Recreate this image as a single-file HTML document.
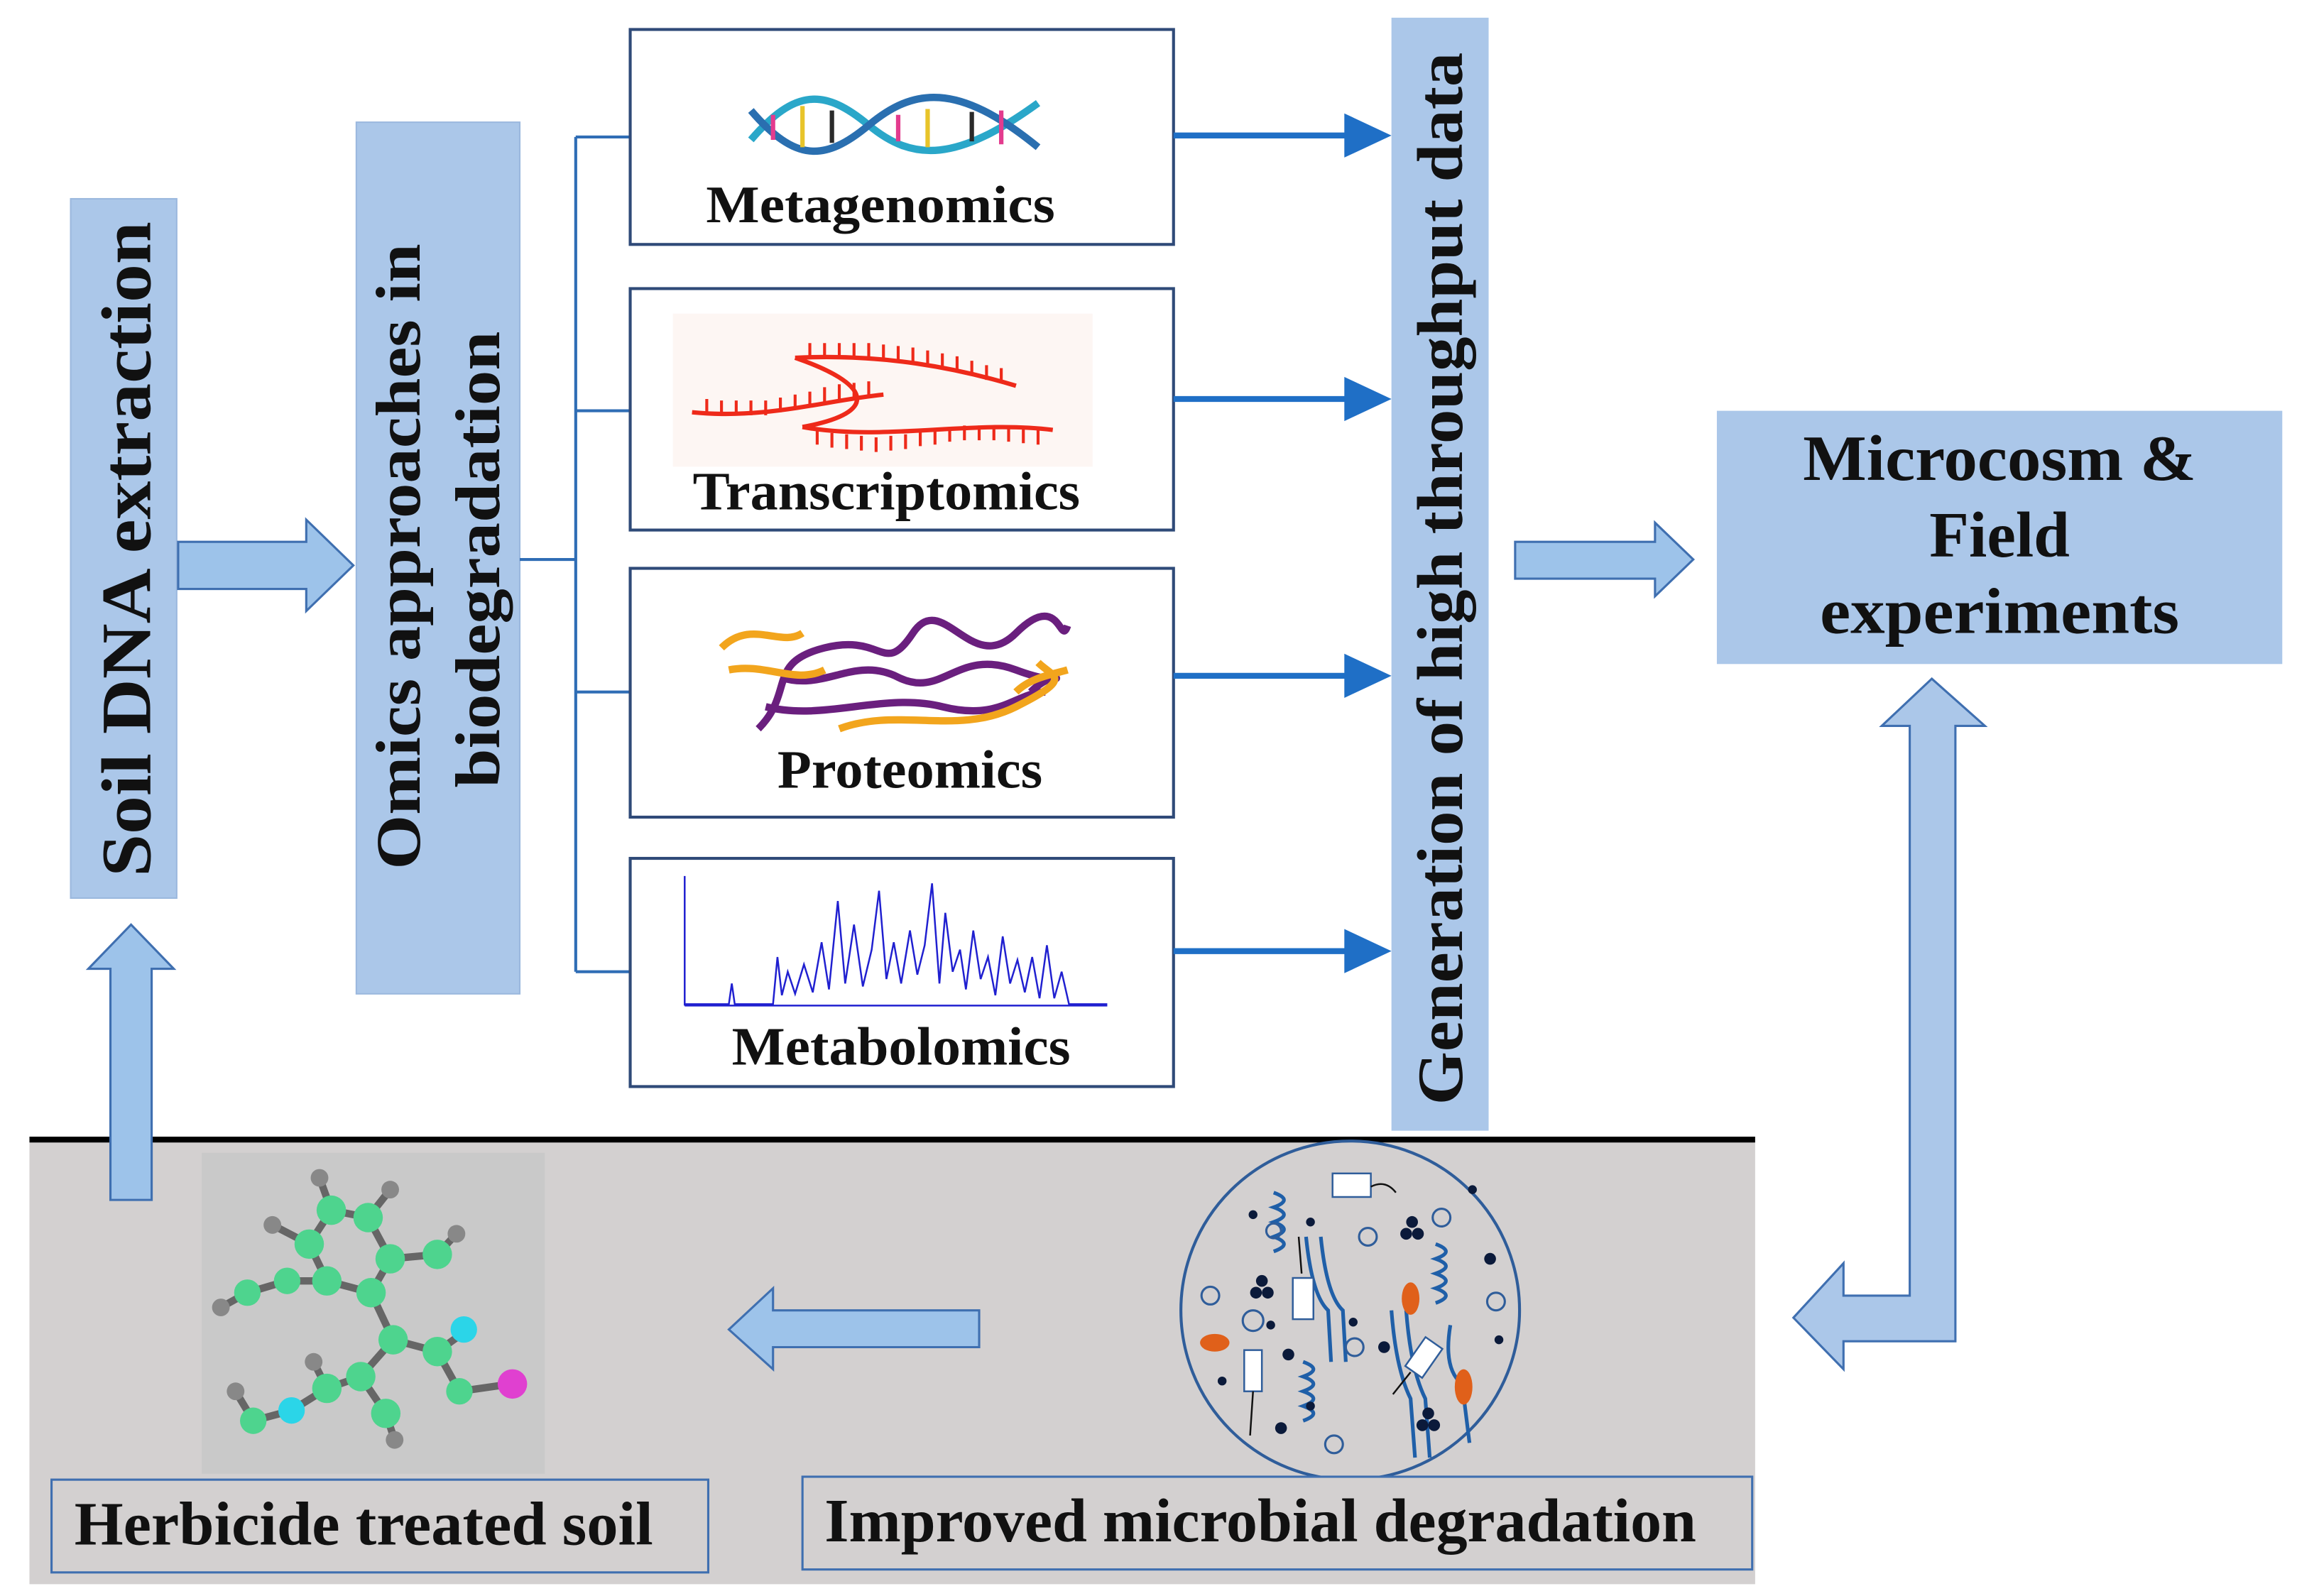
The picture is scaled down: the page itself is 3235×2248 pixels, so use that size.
<!DOCTYPE html>
<html><head><meta charset="utf-8"><style>
html,body{margin:0;padding:0;background:#fff;}
svg{display:block;}
text{font-family:"Liberation Serif",serif;font-weight:bold;fill:#111;}
</style></head><body>
<svg width="3235" height="2248" viewBox="0 0 1560 1084" xmlns="http://www.w3.org/2000/svg">
<!-- gray bottom area -->
<rect x="20" y="774" width="1172" height="302" fill="#d3d0d0"/>
<line x1="20" y1="774" x2="1192" y2="774" stroke="#000" stroke-width="4"/>

<!-- Soil DNA box -->
<rect x="48" y="135" width="72" height="475" fill="#abc7e9" stroke="#9bb8de" stroke-width="1"/>
<text transform="translate(102,373) rotate(-90)" text-anchor="middle" font-size="48" textLength="445" lengthAdjust="spacingAndGlyphs">Soil DNA extraction</text>
<!-- up arrow -->
<polygon points="75,815 103,815 103,658 118,658 89,628 60,658 75,658" fill="#9dc3ea" stroke="#3f6fb0" stroke-width="1.5"/>
<!-- right arrow -->
<polygon points="121,368 208,368 208,353 240,384 208,415 208,400 121,400" fill="#9dc3ea" stroke="#3f6fb0" stroke-width="1.5"/>

<!-- Omics box -->
<rect x="242" y="83" width="111" height="592" fill="#abc7e9" stroke="#9bb8de" stroke-width="1"/>
<text transform="translate(285,378) rotate(-90)" text-anchor="middle" font-size="43" textLength="425" lengthAdjust="spacingAndGlyphs">Omics approaches in</text>
<text transform="translate(339,380) rotate(-90)" text-anchor="middle" font-size="43" textLength="310" lengthAdjust="spacingAndGlyphs">biodegradation</text>

<!-- bracket -->
<g stroke="#2f6db5" stroke-width="2" fill="none">
<line x1="353" y1="380" x2="391" y2="380"/>
<line x1="391" y1="93" x2="391" y2="660"/>
<line x1="391" y1="93" x2="428" y2="93"/>
<line x1="391" y1="279" x2="428" y2="279"/>
<line x1="391" y1="470" x2="428" y2="470"/>
<line x1="391" y1="660" x2="428" y2="660"/>
</g>

<!-- omics boxes -->
<g fill="#fff" stroke="#2f4a78" stroke-width="2">
<rect x="428" y="20" width="369" height="146"/>
<rect x="428" y="196" width="369" height="164"/>
<rect x="428" y="386" width="369" height="169"/>
<rect x="428" y="583" width="369" height="155"/>
</g>
<!-- DNA helix -->
<g fill="none" stroke-width="5">
<path d="M510,95 C540,60 560,60 590,85 S650,110 705,70" stroke="#2aa7c9"/>
<path d="M510,75 C540,110 560,110 590,85 S650,55 705,100" stroke="#2a6fb0"/>
</g>
<g stroke-width="3">
<line x1="525" y1="78" x2="525" y2="95" stroke="#e33b8e"/><line x1="545" y1="72" x2="545" y2="100" stroke="#e8c42a"/>
<line x1="565" y1="75" x2="565" y2="97" stroke="#2a2a2a"/><line x1="610" y1="78" x2="610" y2="96" stroke="#e33b8e"/>
<line x1="630" y1="74" x2="630" y2="100" stroke="#e8c42a"/><line x1="660" y1="76" x2="660" y2="96" stroke="#2a2a2a"/>
<line x1="680" y1="75" x2="680" y2="98" stroke="#e33b8e"/>
</g>
<text x="598" y="151" text-anchor="middle" font-size="36" textLength="237" lengthAdjust="spacingAndGlyphs">Metagenomics</text>
<!-- RNA -->
<rect x="457" y="213" width="285" height="104" fill="#fdf6f3"/>
<g fill="none" stroke="#ee2a1a" stroke-width="3">
<path d="M540,243 C600,240 650,250 690,262"/>
<path d="M470,280 C520,285 560,272 600,268"/>
<path d="M545,290 C600,300 660,285 715,292"/>
<path d="M540,243 C590,260 600,280 545,290"/>
</g>
<g stroke="#ee2a1a" stroke-width="2">
<path d="M550,243v-10M560,243v-10M570,243v-10M580,243v-10M590,243v-10M600,244v-10M610,245v-10M620,246v-10M630,248v-10M640,250v-10M650,252v-10M660,255v-10M670,258v-10M680,260v-10"/>
<path d="M480,281v-10M490,282v-10M500,282v-10M510,282v-10M520,282v-10M530,280v-10M540,278v-10M550,276v-10M560,273v-10M570,271v-10M580,270v-10M590,269v-10"/>
<path d="M555,292v10M565,294v10M575,295v10M585,296v10M595,297v10M605,296v10M615,295v10M625,293v10M635,292v10M645,290v10M655,289v10M665,289v10M675,289v10M685,290v10M695,291v10M705,292v10"/>
</g>
<text x="602" y="346" text-anchor="middle" font-size="37" textLength="263" lengthAdjust="spacingAndGlyphs">Transcriptomics</text>
<!-- protein -->
<g fill="none" stroke-width="5">
<path d="M515,495 C540,470 520,450 560,440 S600,460 620,430 S660,460 690,430 S720,440 725,425" stroke="#6a1f7e"/>
<path d="M530,460 C560,470 580,445 610,460 S650,440 690,455 S720,450 700,470" stroke="#6a1f7e"/>
<path d="M520,480 C560,490 600,470 640,480 S690,470 710,470" stroke="#6a1f7e"/>
<path d="M490,440 C510,420 530,440 545,430 M495,455 C520,450 540,465 560,455" stroke="#f2a51d"/>
<path d="M570,495 C610,480 650,500 690,480 S715,460 705,450" stroke="#f2a51d"/>
<path d="M690,470 C700,460 715,458 725,455" stroke="#f2a51d"/>
</g>
<text x="618" y="535" text-anchor="middle" font-size="37" textLength="180" lengthAdjust="spacingAndGlyphs">Proteomics</text>
<!-- spectrum -->
<g fill="none" stroke="#2020d0" stroke-width="1.2">
<line x1="465" y1="595" x2="465" y2="683"/>
<line x1="465" y1="683" x2="752" y2="683"/>
<path d="M465,682 L495,682 L497,668 L499,682 L525,682 L528,650 L531,676 L535,660 L540,675 L546,655 L552,674 L558,640 L563,672 L569,612 L574,668 L580,628 L586,670 L592,645 L597,605 L602,665 L607,640 L612,668 L618,632 L623,662 L628,642 L633,600 L638,668 L642,620 L647,660 L652,645 L656,672 L661,632 L666,665 L671,650 L676,676 L681,636 L686,668 L691,652 L696,674 L701,650 L706,678 L711,642 L716,678 L721,660 L726,682 L752,682"/>
</g>
<text x="612" y="723" text-anchor="middle" font-size="37" textLength="230" lengthAdjust="spacingAndGlyphs">Metabolomics</text>

<!-- blue arrows -->
<g fill="#1f6fc6" stroke="#1f6fc6">
<line x1="797" y1="92" x2="915" y2="92" stroke-width="4"/><polygon points="913,77 945,92 913,107" stroke="none"/>
<line x1="797" y1="271" x2="915" y2="271" stroke-width="4"/><polygon points="913,256 945,271 913,286" stroke="none"/>
<line x1="797" y1="459" x2="915" y2="459" stroke-width="4"/><polygon points="913,444 945,459 913,474" stroke="none"/>
<line x1="797" y1="646" x2="915" y2="646" stroke-width="4"/><polygon points="913,631 945,646 913,661" stroke="none"/>
</g>

<!-- Generation box -->
<rect x="945" y="12" width="66" height="756" fill="#abc7e9"/>
<text transform="translate(993,393) rotate(-90)" text-anchor="middle" font-size="44" textLength="715" lengthAdjust="spacingAndGlyphs">Generation of high throughput data</text>

<!-- outline arrow -->
<polygon points="1029,368 1124,368 1124,355 1150,380 1124,405 1124,393 1029,393" fill="#9dc3ea" stroke="#3f6fb0" stroke-width="1.5"/>

<!-- Microcosm -->
<rect x="1166" y="279" width="384" height="172" fill="#abc7e9"/>
<text x="1358" y="326" text-anchor="middle" font-size="44" textLength="267" lengthAdjust="spacingAndGlyphs">Microcosm &amp;</text>
<text x="1358" y="378" text-anchor="middle" font-size="44">Field</text>
<text x="1358" y="430" text-anchor="middle" font-size="44" textLength="244" lengthAdjust="spacingAndGlyphs">experiments</text>

<!-- bent arrow -->
<polygon points="1312,461 1348,493 1328,493 1328,911 1252,911 1252,930 1218,895 1252,858 1252,880 1297,880 1297,493 1278,493" fill="#abc7e9" stroke="#3f6fb0" stroke-width="1.5"/>

<!-- left arrow in gray -->
<polygon points="665,890 525,890 525,875 495,903 525,930 525,915 665,915" fill="#9dc3ea" stroke="#3f6fb0" stroke-width="1.5"/>

<!-- molecule -->
<rect x="137" y="783" width="233" height="218" fill="#c9c9c9"/>
<g stroke="#666" stroke-width="5" fill="none">
<path d="M217,800 L225,822 L210,845 L222,870 L252,878 L265,855 L250,827 L225,822 M250,827 L265,808 M265,855 L297,852 L310,838 M252,878 L267,910 L297,918 L315,905 M297,918 L312,945 L347,940 M267,910 L245,935 L222,943 L198,958 L172,965 L160,945 M245,935 L262,960 L268,978 M222,870 L195,870 L168,878 L150,888 M210,845 L185,832 M222,943 L213,925"/>
</g>
<g fill="#4ed48e">
<circle cx="225" cy="822" r="10"/><circle cx="250" cy="827" r="10"/><circle cx="210" cy="845" r="10"/><circle cx="265" cy="855" r="10"/><circle cx="222" cy="870" r="10"/><circle cx="252" cy="878" r="10"/><circle cx="297" cy="852" r="10"/><circle cx="195" cy="870" r="9"/><circle cx="168" cy="878" r="9"/><circle cx="267" cy="910" r="10"/><circle cx="297" cy="918" r="10"/><circle cx="245" cy="935" r="10"/><circle cx="222" cy="943" r="10"/><circle cx="172" cy="965" r="9"/><circle cx="262" cy="960" r="10"/><circle cx="312" cy="945" r="9"/>
</g>
<circle cx="315" cy="903" r="9" fill="#2bd5e8"/><circle cx="198" cy="958" r="9" fill="#2bd5e8"/><circle cx="348" cy="940" r="10" fill="#e040d0"/>
<g fill="#888"><circle cx="217" cy="800" r="6"/><circle cx="265" cy="808" r="6"/><circle cx="310" cy="838" r="6"/><circle cx="150" cy="888" r="6"/><circle cx="185" cy="832" r="6"/><circle cx="160" cy="945" r="6"/><circle cx="268" cy="978" r="6"/><circle cx="213" cy="925" r="6"/></g>

<!-- microbe circle -->
<circle cx="917" cy="890" r="115" fill="#d3d0d0" stroke="#2f5d9a" stroke-width="2"/>
<g fill="none" stroke="#1f5fa8" stroke-width="2.5">
<path d="M865,810 q14,5 0,10 q14,5 0,10 q14,5 0,10 q14,5 0,10"/>
<path d="M975,845 q14,5 0,10 q14,5 0,10 q14,5 0,10 q14,5 0,10"/>
<path d="M885,925 q14,5 0,10 q14,5 0,10 q14,5 0,10 q14,5 0,10"/>
<path d="M887,840 q4,40 15,50 l2,35 M897,840 q4,40 15,50 l2,35"/>
<path d="M945,890 q3,40 13,60 l3,40 M955,890 q3,40 13,60 l3,40"/>
<path d="M985,900 q-5,30 8,40 l5,40"/>
</g>
<g fill="none" stroke="#2f5d9a" stroke-width="1.5">
<circle cx="822" cy="880" r="6"/><circle cx="851" cy="897" r="7"/><circle cx="920" cy="915" r="6"/><circle cx="929" cy="840" r="6"/><circle cx="979" cy="827" r="6"/><circle cx="1016" cy="884" r="6"/><circle cx="906" cy="981" r="6"/><circle cx="865" cy="836" r="5"/>
</g>
<g fill="#0b1a3a"><circle cx="851" cy="825" r="3"/><circle cx="890" cy="830" r="3"/><circle cx="857" cy="870" r="4"/><circle cx="853" cy="878" r="4"/><circle cx="861" cy="878" r="4"/><circle cx="959" cy="830" r="4"/><circle cx="955" cy="838" r="4"/><circle cx="963" cy="838" r="4"/><circle cx="1012" cy="855" r="4"/><circle cx="863" cy="900" r="3"/><circle cx="875" cy="920" r="4"/><circle cx="919" cy="898" r="3"/><circle cx="940" cy="915" r="4"/><circle cx="1018" cy="910" r="3"/><circle cx="830" cy="938" r="3"/><circle cx="870" cy="970" r="4"/><circle cx="890" cy="955" r="3"/><circle cx="970" cy="960" r="4"/><circle cx="966" cy="968" r="4"/><circle cx="974" cy="968" r="4"/><circle cx="1000" cy="808" r="3"/></g>
<g fill="#e0601a"><ellipse cx="825" cy="912" rx="10" ry="6"/><ellipse cx="958" cy="882" rx="6" ry="11"/><ellipse cx="994" cy="942" rx="6" ry="12"/></g>
<g fill="#fff" stroke="#2f5d9a" stroke-width="1.2"><rect x="905" y="797" width="26" height="16"/><rect x="878" y="868" width="14" height="28"/><rect x="845" y="917" width="12" height="28"/><rect x="960" y="910" width="14" height="24" transform="rotate(35 967 922)"/></g>
<g fill="none" stroke="#111" stroke-width="1.2"><path d="M931,806 q10,-5 17,4 M884,865 l-2,-25 M851,945 l-2,30 M958,932 l-12,15"/></g>

<!-- labels -->
<rect x="35" y="1005" width="446" height="63" fill="#d3d0d0" stroke="#3f6fb0" stroke-width="1.5"/>
<text x="247" y="1049" text-anchor="middle" font-size="42" textLength="393" lengthAdjust="spacingAndGlyphs">Herbicide treated soil</text>
<rect x="545" y="1003" width="645" height="63" fill="#d3d0d0" stroke="#3f6fb0" stroke-width="1.5"/>
<text x="856" y="1047" text-anchor="middle" font-size="42" textLength="592" lengthAdjust="spacingAndGlyphs">Improved microbial degradation</text>
</svg>
</body></html>
